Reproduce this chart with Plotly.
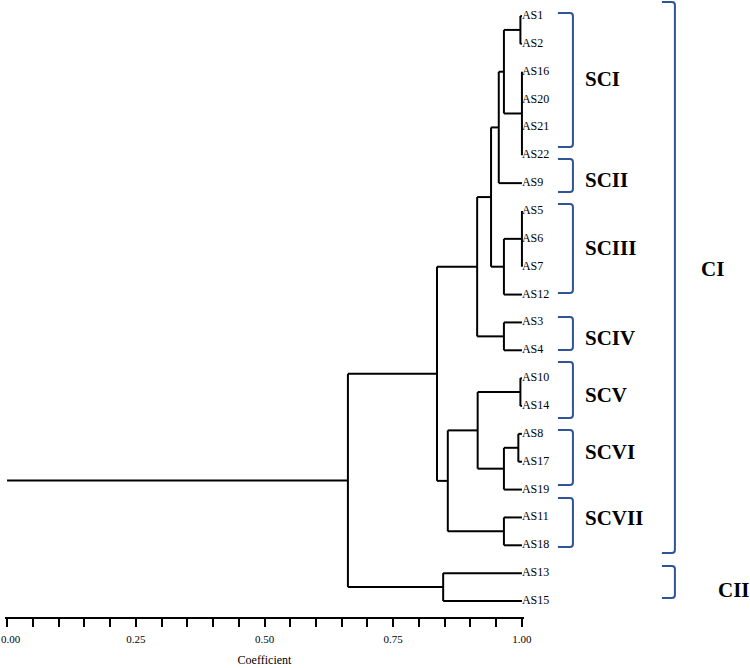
import plotly.graph_objects as go

# ---------------- data ----------------
leaves = ["AS1", "AS2", "AS16", "AS20", "AS21", "AS22", "AS9", "AS5", "AS6", "AS7",
          "AS12", "AS3", "AS4", "AS10", "AS14", "AS8", "AS17", "AS19", "AS11", "AS18",
          "AS13", "AS15"]

# each merge joins its children at a similarity coefficient; nodes are named N<index>
merge_children = [
    ["AS1", "AS2"], ["AS16", "AS20", "AS21", "AS22"], ["N0", "N1"], ["N2", "AS9"],
    ["AS5", "AS6", "AS7"], ["N4", "AS12"], ["N3", "N5"], ["AS3", "AS4"], ["N6", "N7"],
    ["AS10", "AS14"], ["AS8", "AS17"], ["N10", "AS19"], ["N9", "N11"], ["AS11", "AS18"],
    ["N12", "N13"], ["N8", "N14"], ["AS13", "AS15"], ["N15", "N16"],
]
merge_heights = [0.997, 1.0, 0.965, 0.955, 1.0, 0.965, 0.94, 0.965, 0.913, 0.997,
                 0.993, 0.965, 0.914, 0.965, 0.856, 0.835, 0.847, 0.662]

tick_values = [0.0, 0.05, 0.10, 0.15, 0.20, 0.25, 0.30, 0.35, 0.40, 0.45, 0.50,
               0.55, 0.60, 0.65, 0.70, 0.75, 0.80, 0.85, 0.90, 0.95, 1.0]
# the first label ("0.00") sits at the very page edge, so it is drawn as an edge-anchored note
tick_labels = ["", "", "", "", "", "0.25", "", "", "", "", "0.50",
               "", "", "", "", "0.75", "", "", "", "", "1.00"]
first_tick_label = "0.00"

subclusters = ["SCI", "SCII", "SCIII", "SCIV", "SCV", "SCVI", "SCVII"]
clusters = ["CI", "CII"]

# ---------------- layout geometry ----------------
FIG_W, FIG_H = 750, 668
X0PX, X1PX = 7, 522
PAD = 0.004
span_px = X1PX - X0PX
PLOT_W = span_px * (1 + 2 * PAD)
L_M = X0PX - PAD * span_px
R_M = FIG_W - L_M - PLOT_W
T_M, B_M = 0, 51
PLOT_H = FIG_H - T_M - B_M
Y_TOP_IDX, Y_BOT_IDX = -0.574, 21.574
LEAF_Y0PX, LEAF_STEP_PX = 16, 27.857
TICK_FONT = dict(family="Liberation Serif", size=11, color="black")


def px2paper(px):
    return (px - L_M) / PLOT_W


def ypx2paper(py):
    return 1 - (py - T_M) / PLOT_H


def ypx2idx(py):
    return (py - LEAF_Y0PX) / LEAF_STEP_PX


# ---------------- compute dendrogram segments ----------------
pos = {name: (1.0, i) for i, name in enumerate(leaves)}
xs, ys = [], []
for k, (children, h) in enumerate(zip(merge_children, merge_heights)):
    cy = [pos[c][1] for c in children]
    # vertical connector
    xs += [h, h, None]
    ys += [min(cy), max(cy), None]
    # horizontal branches to children
    for c in children:
        cx, cyy = pos[c]
        xs += [h, cx, None]
        ys += [cyy, cyy, None]
    pos["N%d" % k] = (h, (min(cy) + max(cy)) / 2)

root_h, root_y = pos["N%d" % (len(merge_children) - 1)]
xs += [0.0, root_h, None]
ys += [root_y, root_y, None]

fig = go.Figure()
fig.add_trace(go.Scatter(
    x=xs, y=ys, mode="lines",
    line=dict(color="black", width=2),
    hoverinfo="skip", showlegend=False,
))
fig.add_trace(go.Scatter(
    x=[1.0] * len(leaves), y=list(range(len(leaves))), mode="text",
    text=leaves, textposition="middle right",
    textfont=dict(family="Liberation Serif", size=12, color="black"),
    cliponaxis=False, showlegend=False, hoverinfo="skip",
))

# ---------------- brackets (pixel layout) ----------------
BLUE = "#2F5597"
sub_ranges_px = [(13, 147), (159, 192), (204, 293), (317, 350),
                 (362, 418), (430, 485), (498, 547)]
sub_label_ypx = [79, 180, 248, 338, 395, 452, 518]
clu_ranges_px = [(2, 553), (566, 598)]
clu_label_ypx = [269, 590]
clu_label_xpx = [699, 716]


def bracket(xl_px, xr_px, yt_px, yb_px):
    xl, xr = px2paper(xl_px), px2paper(xr_px)
    yt, yb = ypx2idx(yt_px), ypx2idx(yb_px)
    rx = 3 / PLOT_W
    ry = 3 / LEAF_STEP_PX
    path = (f"M {xl},{yt} L {xr - rx},{yt} Q {xr},{yt} {xr},{yt + ry} "
            f"L {xr},{yb - ry} Q {xr},{yb} {xr - rx},{yb} L {xl},{yb}")
    return dict(type="path", path=path, xref="paper", yref="y",
                line=dict(color=BLUE, width=2))


shapes = []
annotations = []
for name, (yt, yb), ly in zip(subclusters, sub_ranges_px, sub_label_ypx):
    shapes.append(bracket(558, 573, yt, yb))
    annotations.append(dict(
        x=px2paper(583), y=ypx2idx(ly), xref="paper", yref="y",
        text="<b>%s</b>" % name, showarrow=False, xanchor="left", yanchor="middle",
        font=dict(family="Liberation Serif", size=21, color="black")))
for name, (yt, yb), lx, ly in zip(clusters, clu_ranges_px, clu_label_xpx, clu_label_ypx):
    shapes.append(bracket(662, 675, yt, yb))
    annotations.append(dict(
        x=px2paper(lx), y=ypx2idx(ly), xref="paper", yref="y",
        text="<b>%s</b>" % name, showarrow=False, xanchor="left", yanchor="middle",
        font=dict(family="Liberation Serif", size=21, color="black")))

annotations.append(dict(
    x=px2paper(0), y=ypx2paper(639), xref="paper", yref="paper",
    text=first_tick_label, showarrow=False, xanchor="left", yanchor="middle",
    font=TICK_FONT, borderpad=0))

fig.update_layout(
    width=FIG_W, height=FIG_H, autosize=False,
    margin=dict(l=L_M, r=R_M, t=T_M, b=B_M, pad=0, autoexpand=False),
    paper_bgcolor="white", plot_bgcolor="white",
    shapes=shapes, annotations=annotations,
    xaxis=dict(
        range=[-PAD, 1 + PAD], showgrid=False, zeroline=False, automargin=False,
        showline=True, linecolor="black", linewidth=2,
        ticks="outside", ticklen=8, tickwidth=1.5, tickcolor="black",
        tickvals=tick_values, ticktext=tick_labels,
        tickfont=TICK_FONT,
        ticklabelstandoff=3, ticklabeloverflow="allow",
        title=dict(text="Coefficient", standoff=11,
                   font=dict(family="Liberation Serif", size=12, color="black")),
    ),
    yaxis=dict(
        range=[Y_BOT_IDX, Y_TOP_IDX], visible=False, showgrid=False, zeroline=False,
        automargin=False,
    ),
)

fig.write_html(
    "out.html",
    config={"displayModeBar": False},
    post_script="document.body.style.margin='0';document.body.style.overflow='hidden';",
)
